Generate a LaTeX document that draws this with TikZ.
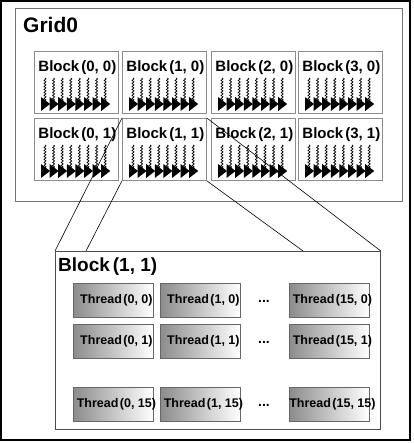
\documentclass[tikz,border=0pt]{standalone}
\usepackage{fontspec}
\setmainfont{Liberation Sans}
\usetikzlibrary{decorations.pathmorphing,calc}

\newcommand\wavyarrows[1]{%
  \foreach \i in {0,...,7}{%
    \draw[wave] ($(#1.north west)+(11+8.6*\i,27)$) -- ($(#1.north west)+(11+8.6*\i,50)$);
    \fill[head] ($(#1.north west)+(7+8.6*\i,46)$) -- ($(#1.north west)+(16+8.6*\i,53)$) -- ($(#1.north west)+(7+8.6*\i,60)$) -- cycle;
  }%
}

\begin{document}
\begin{tikzpicture}[x=1pt,y=-1pt,
  frame/.style={draw=black, line width=1.6pt},
  gridbox/.style={draw=black!55, line width=0.8pt},
  blockbox/.style={draw=black!45, line width=0.8pt, minimum width=84pt, minimum height=62pt, anchor=north west, inner sep=0pt},
  blocktitle/.style={font=\fontsize{15}{17}\selectfont\bfseries, anchor=base, inner sep=0pt},
  bigbox/.style={draw=black!70, line width=0.8pt, minimum width=325pt, minimum height=178pt, anchor=north west, inner sep=0pt},
  threadbox/.style={draw=black!60, line width=0.8pt, left color=black!45, right color=white, minimum width=80pt, minimum height=34pt, anchor=north west, inner sep=0pt},
  threadtext/.style={font=\fontsize{12.5}{13}\selectfont\bfseries, inner sep=0pt},
  dots/.style={font=\fontsize{14}{15}\selectfont\bfseries, anchor=base, inner sep=0pt},
  wave/.style={decorate, decoration={snake, amplitude=1pt, segment length=3pt}, line width=0.7pt},
  head/.style={fill=black},
  link/.style={draw=black, line width=0.6pt}
]
\useasboundingbox (0,0) rectangle (413,443);
\draw[frame] (0.8,0.8) rectangle (410,440);

% Grid
\draw[gridbox] (15,8) rectangle (402,201);
\node[font=\fontsize{21}{24}\selectfont\bfseries, anchor=base west, inner sep=0pt] (gridtitle) at (23,33) {Grid0};

% Blocks
\foreach \c/\x in {0/34,1/122,2/211,3/298}{
  \foreach \r/\y in {0/51,1/118}{
    \node[blockbox] (b\c\r) at (\x,\y) {};
    \node[blocktitle] (t\c\r) at ($(b\c\r.north)+(1,21)$) {Block\kern2pt(\c, \r)};
    \wavyarrows{b\c\r}
  }
}

% Expanded block
\node[bigbox] (big) at (55,251) {};
\node[font=\fontsize{19}{20}\selectfont\bfseries, anchor=base west, inner sep=0pt] (bigtitle) at (58,271) {Block\kern3pt(1, 1)};
\coordinate (bigA) at (86,251);
\coordinate (bigB) at (303,251);

\draw[link] (b11.north west) -- (big.north west);
\draw[link] (b11.south west) -- (bigA);
\draw[link] (b11.north east) -- (big.north east);
\draw[link] (b11.south east) -- (bigB);

% Threads
\foreach \c/\x/\lab in {0/73/0,1/160/1,2/289/15}{
  \foreach \r/\y/\rl in {0/283/0,1/324/1,2/387/15}{
    \node[threadbox] (th\c\r) at (\x,\y) {};
    \node[threadtext] (tt\c\r) at ($(th\c\r.center)+(3,0)$) {Thread\kern1.5pt(\lab, \rl)};
  }
}
\node[dots] (d0) at (264,302) {...};
\node[dots] (d1) at (264,343) {...};
\node[dots] (d2) at (264,406) {...};
\end{tikzpicture}
\end{document}
